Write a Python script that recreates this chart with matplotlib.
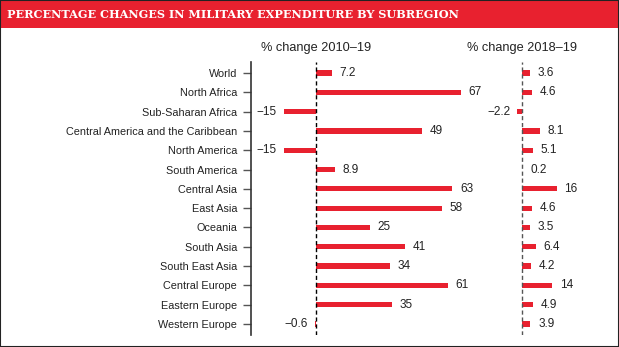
# Percentage changes in military expenditure by subregion
import matplotlib.pyplot as plt
from matplotlib.patches import Rectangle

regions = ['World', 'North Africa', 'Sub-Saharan Africa',
           'Central America and the Caribbean', 'North America',
           'South America', 'Central Asia', 'East Asia', 'Oceania',
           'South Asia', 'South East Asia', 'Central Europe',
           'Eastern Europe', 'Western Europe']
change_2010_19 = [7.2, 67, -15, 49, -15, 8.9, 63, 58, 25, 41, 34, 61, 35, -0.6]
change_2018_19 = [3.6, 4.6, -2.2, 8.1, 5.1, 0.2, 16, 4.6, 3.5, 6.4, 4.2, 14, 4.9, 3.9]
col_titles = ['% change 2010\u201319', '% change 2018\u201319']

RED = '#e8212f'
W, H = 619, 347
plt.rcParams['font.family'] = ['Liberation Sans', 'DejaVu Sans']

fig = plt.figure(figsize=(W / 100, H / 100), dpi=100)

# header band
fig.patches.append(Rectangle((0, 1 - 28 / H), 1, 28 / H, transform=fig.transFigure,
                             facecolor=RED, edgecolor='none', zorder=0))
fig.text(7 / W, 1 - 14.5 / H,
         'PERCENTAGE CHANGES IN MILITARY EXPENDITURE BY SUBREGION',
         family='DejaVu Serif', weight='bold', size=8.1, color='white',
         ha='left', va='center')
# frame
fig.patches.append(Rectangle((0, 0), 1, 1, transform=fig.transFigure,
                             facecolor='none', edgecolor='#222222', lw=1.5, zorder=5))

px = 2.165  # pixels per percentage point
top, bottom = 62, 335
ybot = 1 - bottom / H
yh = (bottom - top) / H
row = (324 - 73) / 13
ylim = (13 + (bottom - 324) / row, -(73 - top) / row)


def px_axes(left, right, zero):
    ax = fig.add_axes([left / W, ybot, (right - left) / W, yh])
    ax.set_xlim((left - zero) / px, (right - zero) / px)
    ax.set_ylim(*ylim)
    ax.patch.set_alpha(0)
    for s in ['top', 'right', 'bottom', 'left']:
        ax.spines[s].set_visible(False)
    ax.set_xticks([])
    ax.set_yticks([])
    return ax


def fmt(v):
    s = ('%g' % abs(v))
    return ('\u2212' + s) if v < 0 else s


ax1 = px_axes(251, 500, 316)
ax2 = px_axes(500, 610, 522)

ax1.spines['left'].set_visible(True)
ax1.spines['left'].set_color('#333333')
ax1.spines['left'].set_linewidth(1.2)
ax1.set_yticks(range(len(regions)))
ax1.set_yticklabels(regions)
ax1.tick_params(axis='y', length=6, width=1, color='#555555', pad=4,
                labelsize=7.8, labelcolor='#222222')

for ax, vals, dash_color, title in [(ax1, change_2010_19, 'black', col_titles[0]),
                                    (ax2, change_2018_19, '#555555', col_titles[1])]:
    y = list(range(len(vals)))
    ax.barh(y, vals, height=0.27, color=RED, zorder=2)
    ax.axvline(0, color=dash_color, lw=1, ls=(0, (3, 2)), zorder=3)
    for yi, v in zip(y, vals):
        off = 5.5 if v >= 0 else -5
        ax.annotate(fmt(v), (v, yi), xytext=(off, 0), textcoords='offset points',
                    ha='left' if v >= 0 else 'right', va='center',
                    size=8.5, color='#222222')
    ax.text(0, 1 - (48 - top) / (bottom - top), title, transform=ax.get_xaxis_transform(),
            ha='center', va='center', size=9.2, color='#222222')

fig.savefig('out.png', dpi=100)
